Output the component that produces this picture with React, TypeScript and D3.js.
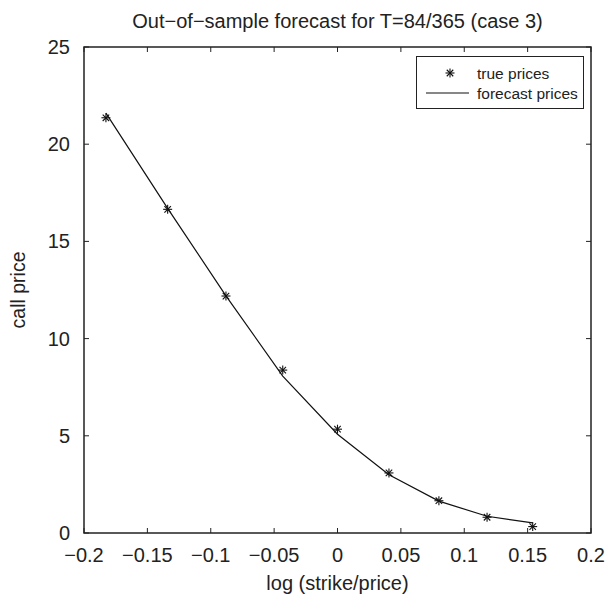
import React from "react";
import * as d3 from "d3";

const logMoneyness = [-0.1827, -0.134, -0.088, -0.0432, 0.0, 0.0406, 0.080, 0.118, 0.154];
const truePrices = [21.36, 16.65, 12.19, 8.38, 5.34, 3.09, 1.66, 0.81, 0.33];
const forecastPrices = [21.6, 16.7, 12.2, 8.07, 5.08, 3.0, 1.64, 0.86, 0.52];
const xTicks = [-0.2, -0.15, -0.1, -0.05, 0, 0.05, 0.1, 0.15, 0.2];
const yTicks = [0, 5, 10, 15, 20, 25];

const W = 606, H = 598;
const L = 84, R = 591, T = 47, B = 533;
const FONT = "'Liberation Sans', Arial, Helvetica, sans-serif";

function fmt(v: number) {
  const s = String(v);
  return s.replace("-", "\u2212");
}

export default function App() {
  const x = d3.scaleLinear().domain([-0.2, 0.2]).range([L, R]);
  const y = d3.scaleLinear().domain([0, 25]).range([B, T]);
  const line = d3.line<number>().x((_, i) => x(logMoneyness[i])).y((d) => y(d));
  const tl = 5;
  const star = (cx: number, cy: number, k: string) => {
    const r = 4.5, d = r * 0.72;
    return (
      <g key={k} stroke="#111" strokeWidth={1.1}>
        <line x1={cx - r} y1={cy} x2={cx + r} y2={cy} />
        <line x1={cx} y1={cy - r} x2={cx} y2={cy + r} />
        <line x1={cx - d} y1={cy - d} x2={cx + d} y2={cy + d} />
        <line x1={cx - d} y1={cy + d} x2={cx + d} y2={cy - d} />
      </g>
    );
  };
  return (
    <svg width={W} height={H} style={{ position: "absolute", left: 0, top: 0, background: "#fff" }} fontFamily={FONT}>
      <rect x={0} y={0} width={W} height={H} fill="#fff" />
      <text x={(L + R) / 2} y={28} textAnchor="middle" fontSize={20} fill="#222">
        Out{"\u2212"}of{"\u2212"}sample forecast for T=84/365 (case 3)
      </text>
      {xTicks.map((t, i) => (
        <g key={"xt" + i}>
          <line x1={x(t)} x2={x(t)} y1={B} y2={B - tl} stroke="#222" />
          <line x1={x(t)} x2={x(t)} y1={T} y2={T + tl} stroke="#222" />
          <text x={x(t)} y={562} textAnchor="middle" fontSize={20} fill="#222">{fmt(t)}</text>
        </g>
      ))}
      {yTicks.map((t, i) => (
        <g key={"yt" + i}>
          <line x1={L} x2={L + tl} y1={y(t)} y2={y(t)} stroke="#222" />
          <line x1={R} x2={R - tl} y1={y(t)} y2={y(t)} stroke="#222" />
          <text x={70} y={y(t) + 7} textAnchor="end" fontSize={20} fill="#222">{fmt(t)}</text>
        </g>
      ))}
      <rect x={L} y={T} width={R - L} height={B - T} fill="none" stroke="#222" strokeWidth={1.5} />
      <text x={(L + R) / 2} y={590} textAnchor="middle" fontSize={20} fill="#222">log (strike/price)</text>
      <text transform={`translate(25,${(T + B) / 2}) rotate(-90)`} textAnchor="middle" fontSize={19.5} fill="#222">call price</text>
      <path d={line(forecastPrices) || ""} fill="none" stroke="#111" strokeWidth={1.2} />
      {truePrices.map((v, i) => star(x(logMoneyness[i]), y(v), "s" + i))}
      <g>
        <rect x={416.5} y={56.5} width={167} height={52} fill="#fff" stroke="#222" strokeWidth={1} />
        {star(450, 73, "legstar")}
        <text x={477} y={79} fontSize={15.5} fill="#222">true prices</text>
        <line x1={426} x2={469} y1={93} y2={93} stroke="#111" strokeWidth={1.2} />
        <text x={477} y={99} fontSize={15.5} fill="#222">forecast prices</text>
      </g>
    </svg>
  );
}
